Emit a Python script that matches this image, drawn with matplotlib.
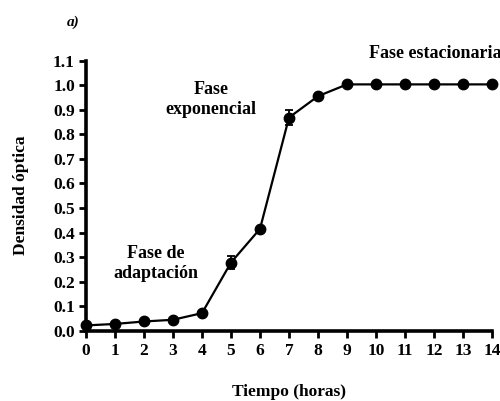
import matplotlib
matplotlib.use("Agg")
import matplotlib.pyplot as plt

# ----------------------------
# Datos
# ----------------------------
horas = [0, 1, 2, 3, 4, 5, 6, 7, 8, 9, 10, 11, 12, 13, 14]
densidad = [0.022, 0.028, 0.038, 0.045, 0.072, 0.278, 0.415, 0.868, 0.955,
            1.003, 1.003, 1.003, 1.003, 1.003, 1.003]
error = [0.004, 0.004, 0.004, 0.004, 0.005, 0.025, 0.006, 0.03, 0.006,
         0.004, 0.004, 0.004, 0.004, 0.004, 0.004]
y_ticks = [0.0, 0.1, 0.2, 0.3, 0.4, 0.5, 0.6, 0.7, 0.8, 0.9, 1.0, 1.1]

plt.rcParams['font.family'] = ['Liberation Serif', 'DejaVu Serif']
plt.rcParams['font.weight'] = 'bold'

fig = plt.figure(figsize=(5, 4.01), dpi=100)
ax = fig.add_axes([0.172, 0.175, 0.812, 0.674])

ax.errorbar(horas, densidad, yerr=error, color='black', marker='o',
            markersize=7.5, linewidth=1.6, capsize=3, elinewidth=1.3,
            capthick=1.3, clip_on=False, zorder=5)

ax.set_xlim(0, 14)
ax.set_ylim(0, 1.1)
ax.set_xticks(horas)
ax.set_yticks(y_ticks)
ax.set_yticklabels([f"{v:.1f}" for v in y_ticks])

for s in ['top', 'right']:
    ax.spines[s].set_visible(False)
for s in ['left', 'bottom']:
    ax.spines[s].set_linewidth(2.6)

ax.tick_params(axis='both', direction='out', length=5, width=2,
               labelsize=12.5, pad=3)
ax.tick_params(axis='x', pad=4)
for lab in ax.get_xticklabels() + ax.get_yticklabels():
    lab.set_fontweight('bold')

ax.set_xlabel("Tiempo (horas)", fontsize=12.5, fontweight='bold', labelpad=18)
ax.set_ylabel("Densidad óptica", fontsize=12.5, fontweight='bold', labelpad=17)

ax.text(12.03, 1.13, "Fase estacionaria", ha='center', va='center',
        fontsize=13, fontweight='bold', clip_on=False)
ax.text(4.3, 0.94, "Fase\nexponencial", ha='center', va='center',
        fontsize=13, fontweight='bold', linespacing=1.25)
ax.text(2.4, 0.273, "Fase de\nadaptación", ha='center', va='center',
        fontsize=13, fontweight='bold', linespacing=1.25)

fig.text(0.146, 0.945, "a)", ha='center', va='center', fontsize=11,
         fontweight='bold', style='italic')

plt.savefig("out.png", dpi=100)
